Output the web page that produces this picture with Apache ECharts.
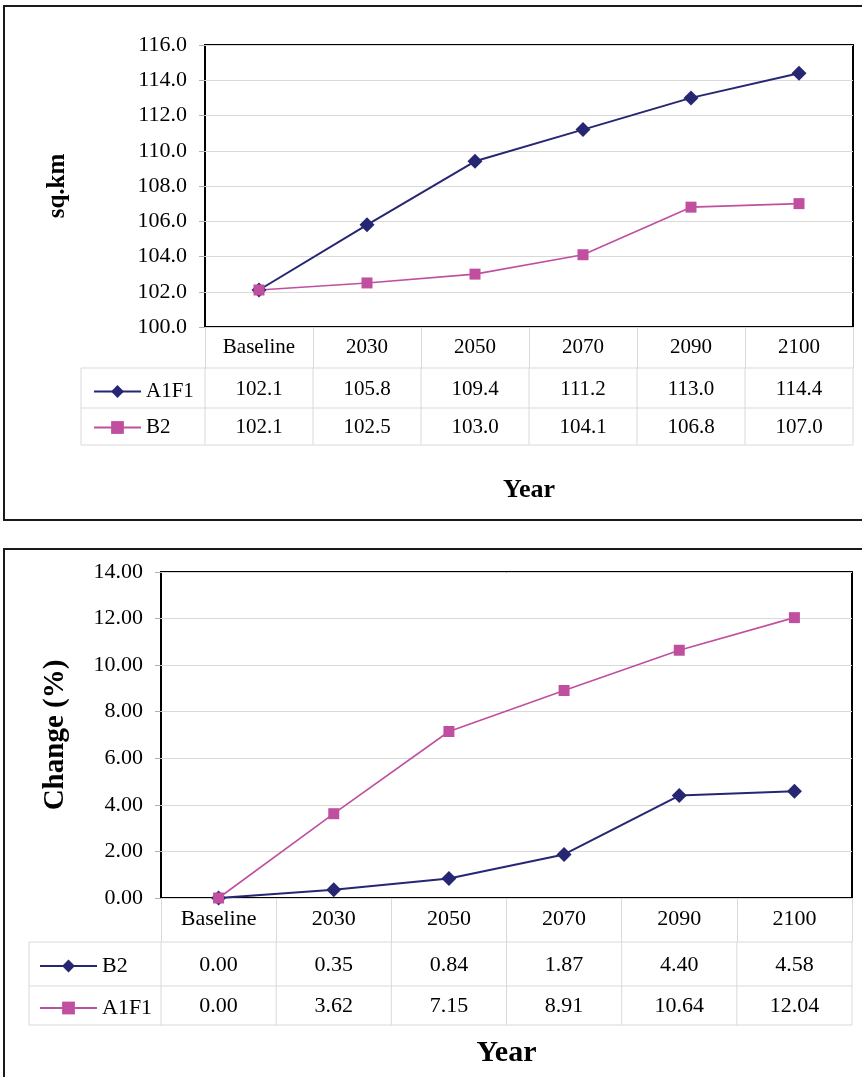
<!DOCTYPE html>
<html><head><meta charset="utf-8">
<script src="https://cdn.jsdelivr.net/npm/echarts@6/dist/echarts.min.js"></script>
<style>html,body{margin:0;padding:0;background:#fff}#c{width:862px;height:1077px}</style>
</head><body><div id="c"></div>
<script>
// ---- data ----
const categories = ['Baseline', '2030', '2050', '2070', '2090', '2100'];
const areaA1F1 = [102.1, 105.8, 109.4, 111.2, 113.0, 114.4];
const areaB2 = [102.1, 102.5, 103.0, 104.1, 106.8, 107.0];
const changeB2 = [0.00, 0.35, 0.84, 1.87, 4.40, 4.58];
const changeA1F1 = [0.00, 3.62, 7.15, 8.91, 10.64, 12.04];
const areaAxis = { min: 100, max: 116, interval: 2 };
const changeAxis = { min: 0, max: 14, interval: 2 };

// ---- style / layout ----
const NAVY = '#262673', MAG = '#c0509f', GRID = '#d9d9d9', FONT = '"Liberation Serif","Times New Roman",serif';
const G1 = { left: 205, top: 45, width: 648, height: 282 };
const G2 = { left: 161, top: 572, width: 691, height: 326 };
const T1 = { left: 81, lines: [368, 408, 445], fs: 21 };
const T2 = { left: 29, lines: [942, 986, 1025], fs: 22 };

const chart = echarts.init(document.getElementById('c'), null, { renderer: 'canvas' });

function xAxisCfg(gi, fs, tickLen, name, nameFs, nameGap) {
  return {
    type: 'category', gridIndex: gi, data: categories, boundaryGap: true,
    axisLine: { show: false },
    axisTick: { show: true, length: tickLen, interval: 0, lineStyle: { color: GRID, width: 1 } },
    axisLabel: { interval: 0, margin: 10, fontSize: fs, fontFamily: FONT, color: '#000' },
    name: name, nameLocation: 'middle', nameGap: nameGap,
    nameTextStyle: { fontSize: nameFs, fontWeight: 'bold', fontFamily: FONT, color: '#000' }
  };
}
function yAxisCfg(gi, ax, dec, name, nameFs, nameGap) {
  return {
    type: 'value', gridIndex: gi, min: ax.min, max: ax.max, interval: ax.interval,
    axisLine: { show: false },
    axisTick: { show: true, length: 6, lineStyle: { color: '#b0b0b0' } },
    axisLabel: { margin: 18, fontSize: 22, fontFamily: FONT, color: '#000', formatter: v => v.toFixed(dec) },
    splitLine: { show: true, lineStyle: { color: GRID, width: 1 } },
    name: name, nameLocation: 'middle', nameRotate: 90, nameGap: nameGap,
    nameTextStyle: { fontSize: nameFs, fontWeight: 'bold', fontFamily: FONT, color: '#000' }
  };
}
function lineSeries(name, xi, data, color, symbol) {
  const dia = symbol === 'diamond';
  return {
    name: name, type: 'line', xAxisIndex: xi, yAxisIndex: xi, data: data,
    symbol: symbol, symbolSize: dia ? 15 : 11, showSymbol: true,
    lineStyle: { color: color, width: dia ? 2 : 1.6 },
    itemStyle: { color: color, borderWidth: 0 },
    emphasis: { disabled: true }, animation: false
  };
}
function legendCfg(names, left, top, w, gap, fs) {
  return {
    orient: 'vertical', left: left, top: top, itemWidth: w, itemHeight: 16, itemGap: gap,
    selectedMode: false, data: names,
    formatter: n => n.split(' ')[0],
    textStyle: { fontSize: fs, fontFamily: FONT, color: '#000' }
  };
}

chart.setOption({
  animation: false,
  backgroundColor: '#fff',
  grid: [
    Object.assign({ show: true, borderColor: '#000', borderWidth: 2, containLabel: false }, G1),
    Object.assign({ show: true, borderColor: '#000', borderWidth: 2, containLabel: false }, G2)
  ],
  xAxis: [
    xAxisCfg(0, T1.fs, T1.lines[0] - (G1.top + G1.height), 'Year', 26, 150),
    xAxisCfg(1, T2.fs, T2.lines[0] - (G2.top + G2.height), 'Year', 30, 140)
  ],
  yAxis: [
    yAxisCfg(0, areaAxis, 1, 'sq.km', 25, 135),
    yAxisCfg(1, changeAxis, 2, 'Change (%)', 29, 91)
  ],
  legend: [
    legendCfg(['A1F1 area', 'B2 area'], 88, T1.lines[0] + 8, 47, 15, T1.fs),
    legendCfg(['B2 change', 'A1F1 change'], 34, T2.lines[0] + 8, 57, 20, T2.fs)
  ],
  series: [
    lineSeries('A1F1 area', 0, areaA1F1, NAVY, 'diamond'),
    lineSeries('B2 area', 0, areaB2, MAG, 'rect'),
    lineSeries('B2 change', 1, changeB2, NAVY, 'diamond'),
    lineSeries('A1F1 change', 1, changeA1F1, MAG, 'rect')
  ]
});

// ---- data tables below each plot ----
function tableGraphics(gi, G, T, rows, dec) {
  const els = [];
  const right = G.left + G.width;
  const colW = G.width / categories.length;
  T.lines.forEach(y => els.push({ type: 'line', shape: { x1: T.left, y1: y, x2: right, y2: y }, style: { stroke: GRID, lineWidth: 1 } }));
  els.push({ type: 'line', shape: { x1: T.left, y1: T.lines[0], x2: T.left, y2: T.lines[T.lines.length - 1] }, style: { stroke: GRID, lineWidth: 1 } });
  for (let k = 0; k <= categories.length; k++) {
    const x = G.left + k * colW;
    els.push({ type: 'line', shape: { x1: x, y1: T.lines[0], x2: x, y2: T.lines[T.lines.length - 1] }, style: { stroke: GRID, lineWidth: 1 } });
  }
  rows.forEach((vals, r) => {
    const yc = (T.lines[r] + T.lines[r + 1]) / 2 + 1;
    vals.forEach((v, i) => {
      const x = chart.convertToPixel({ xAxisIndex: gi }, i);
      els.push({ type: 'text', x: x, y: yc, style: { text: v.toFixed(dec), fontSize: T.fs, fontFamily: FONT, fill: '#000', align: 'center', verticalAlign: 'middle' } });
    });
  });
  return els;
}

const frames = [
  { type: 'rect', shape: { x: 4, y: 6, width: 900, height: 514 }, style: { fill: 'none', stroke: '#1a1a1a', lineWidth: 2 }, z: 0 },
  { type: 'rect', shape: { x: 4, y: 549, width: 900, height: 600 }, style: { fill: 'none', stroke: '#1a1a1a', lineWidth: 2 }, z: 0 }
];

chart.setOption({
  graphic: frames
    .concat(tableGraphics(0, G1, T1, [areaA1F1, areaB2], 1))
    .concat(tableGraphics(1, G2, T2, [changeB2, changeA1F1], 2))
});
</script>
</body></html>
